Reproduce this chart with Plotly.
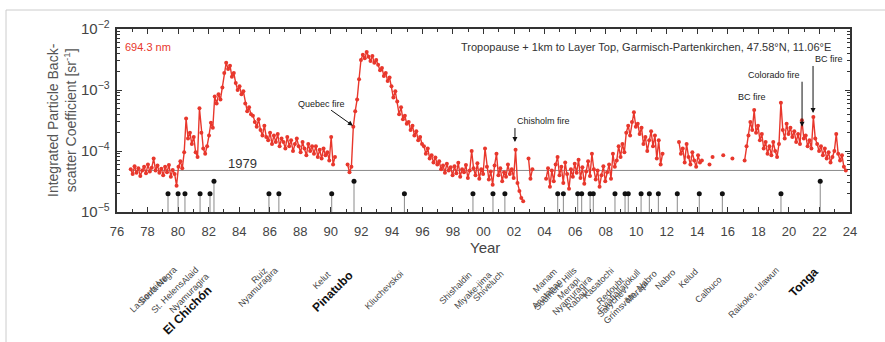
import math
import plotly.graph_objects as go

# ---------------- data ----------------
# Integrated particle backscatter coefficient, in units of 1e-5 sr^-1,
# read from the picture, sampled every SAMPLE_STEP years from each segment start.
SAMPLE_STEP = 0.125
UNIT = 1e-5

seg_a_start = 1976.9
seg_a = [5.0, 4.2, 5.6, 4.4, 5.2, 3.9, 4.8, 5.5,
         4.3, 6.0, 4.6, 5.3, 7.5, 4.8, 5.8, 4.4,
         5.1, 4.0, 5.5, 4.5, 5.9, 3.8, 4.9, 4.2,
         2.7, 5.5, 6.8, 5.2, 9.5, 34, 16, 20,
         13, 17, 9.5, 8.0, 50, 20, 11, 9.0,
         12, 18, 29, 24, 78, 60, 85, 70,
         110, 190, 280, 220, 250, 165, 190, 130,
         100, 115, 85, 95, 60, 45, 52, 40,
         38, 30, 25, 33, 22, 18, 26, 17,
         15, 20, 13, 18, 14, 19, 12, 16,
         14, 11, 17, 12, 15, 10, 13, 16,
         12, 9.5, 14, 11, 8.5, 13, 10, 12,
         9.0, 12, 8.0, 10.5, 7.5, 11, 8.5, 9.5,
         7.0, 17, 6.0, 8.0]

seg_b_start = 1991.1
seg_b = [6.0, 4.5, 5.5, 25, 45, 70, 150, 310,
         380, 330, 420, 350, 300, 360, 280, 310,
         260, 210, 230, 170, 190, 140, 160, 115,
         75, 95, 65, 40, 52, 33, 38, 28,
         30, 22, 26, 18, 21, 15, 17, 13,
         12, 9.0, 11, 7.5, 8.5, 6.5, 7.8, 6.0,
         6.8, 5.0, 5.8, 4.4, 6.2, 4.8, 5.4, 4.0,
         5.6, 4.3, 6.4, 3.8, 5.0, 4.5, 5.9, 3.6,
         4.8, 10, 5.2, 4.0, 6.3, 3.5, 5.0, 4.2,
         11, 5.5, 3.4, 4.6, 2.8, 5.8, 9.0, 4.0,
         5.2, 3.2, 4.5, 3.8, 6.0, 4.2, 5.0, 3.6,
         10.5, 3.0, 2.2, 1.7, 1.5]

seg_c_start = 2002.95
seg_c = [7.5, 3.5, 5.0]

seg_d_start = 2004.1
seg_d = [3.5, 5.2, 2.6, 4.8, 3.2, 6.0, 8.0, 4.0,
         5.5, 3.0, 6.5, 4.2, 2.4, 5.0, 3.8, 6.2,
         4.4, 7.2, 3.6, 5.4, 2.9, 4.6, 6.8, 3.9,
         9.0, 5.0, 3.4, 4.8, 2.6, 4.0, 5.6, 3.2,
         4.5, 6.0, 3.5, 9.0, 5.5, 7.0, 12, 8.0,
         13, 9.5, 20, 26, 18, 30, 43, 25,
         28, 19, 24, 13, 17, 10, 15, 21,
         12, 18, 7.5, 15, 6.0, 9.0]

seg_e_start = 2012.8
seg_e = [14, 9.0, 11, 6.5, 13, 8.0, 6.0, 9.5, 7.0, 5.5, 8.5, 6.5, 7.0]

sparse_years = [2014.8, 2015.0, 2015.7, 2016.3]
sparse_vals = [6.0, 8.0, 8.5, 7.5]

seg_g_start = 2017.1
seg_g = [7.0, 12, 18, 30, 22, 47, 20, 26,
         15, 19, 11, 14, 9.0, 12, 8.5, 14,
         10, 8.0, 13, 62, 22, 16, 28, 19,
         24, 17, 21, 14, 19, 13, 32, 16,
         18, 12, 15, 11, 36, 16, 13, 10,
         12, 8.5, 11, 7.5, 9.5, 6.5, 8.0, 10,
         19, 9.0, 7.0, 8.5, 5.5, 4.8]

reference_1979 = 4.8  # 1979 background level, units 1e-5 sr^-1

# volcanic eruptions (marker years), names, major flag
volcano_years = [1979.34, 1980.0, 1980.45, 1981.44, 1982.09, 1982.35,
                 1985.95, 1986.6, 1990.06, 1991.52, 1994.82,
                 1999.31, 2000.62, 2001.4,
                 2004.86, 2005.23, 2006.17, 2006.43, 2006.98, 2007.19,
                 2008.61, 2009.27, 2009.48, 2010.32, 2010.86, 2011.45,
                 2012.69, 2014.13, 2015.64, 2019.48, 2022.05]
volcano_names = ["La Soufrière", "Sierra Negra", "St. Helens", "Alaid", "Nyamuragira", "El Chichón",
                 "Ruiz", "Nyamuragira", "Kelut", "Pinatubo", "Kliuchevskoi",
                 "Shishaldin", "Miyake-jima", "Shiveluch",
                 "Manam", "Anatahan", "Soufrière Hills", "Merapi", "Rabaul", "Nyamuragira",
                 "Kasatochi", "Redoubt", "Sarychev", "Eyjafjallajökull", "Merapi", "Grímsvötn, Nabro",
                 "Nabro", "Kelud", "Calbuco", "Raikoke, Ulawun", "Tonga"]
volcano_major = [False, False, False, False, False, True,
                 False, False, False, True, False,
                 False, False, False,
                 False, False, False, False, False, False,
                 False, False, False, False, False, False,
                 False, False, False, False, True]

fire_names = ["Quebec fire", "Chisholm fire", "BC fire", "Colorado fire", "BC fire"]
fire_years = [1991.45, 2002.06, 2017.6, 2020.86, 2021.58]
fire_values = [2.6e-4, 1.4e-4, 4.7e-4, 2.5e-4, 4.2e-4]

x_tick_years = list(range(1976, 2025, 2))
x_tick_labels = [f"{y % 100:02d}" for y in x_tick_years]

# ---------------- build series ----------------
def segment(start, vals):
    xs = [start + i * SAMPLE_STEP for i in range(len(vals))]
    ys = [v * UNIT for v in vals]
    return xs, ys

xs, ys = [], []
for st, vals in [(seg_a_start, seg_a), (seg_b_start, seg_b), (seg_c_start, seg_c),
                 (seg_d_start, seg_d), (seg_e_start, seg_e)]:
    sx, sy = segment(st, vals)
    xs += sx + [None]
    ys += sy + [None]
for yr, v in zip(sparse_years, sparse_vals):
    xs += [yr, None]
    ys += [v * UNIT, None]
sx, sy = segment(seg_g_start, seg_g)
xs += sx
ys += sy

RED = "#e8372c"
FONT = "Liberation Sans, Arial, sans-serif"
MINOR_H = 2.0e-5
MAJOR_H = 3.2e-5

fig = go.Figure()

# 1979 reference line
fig.add_trace(go.Scatter(x=[1976.9, 2023.6], y=[reference_1979 * UNIT] * 2, mode="lines",
                         line=dict(color="#8a8a8a", width=1), hoverinfo="skip", showlegend=False))

# volcano stems
stem_x, stem_y = [], []
for yr, mj in zip(volcano_years, volcano_major):
    stem_x += [yr, yr, None]
    stem_y += [1e-5, MAJOR_H if mj else MINOR_H, None]
fig.add_trace(go.Scatter(x=stem_x, y=stem_y, mode="lines", line=dict(color="#8a8a8a", width=1),
                         hoverinfo="skip", showlegend=False))

# main data
fig.add_trace(go.Scatter(x=xs, y=ys, mode="lines+markers",
                         line=dict(color=RED, width=1.4),
                         marker=dict(color=RED, size=4),
                         showlegend=False))

# volcano dots
fig.add_trace(go.Scatter(x=volcano_years,
                         y=[MAJOR_H if mj else MINOR_H for mj in volcano_major],
                         mode="markers", marker=dict(color="#111", size=5),
                         showlegend=False))

W, H = 885, 342
L, R, T, B = 117, 35, 29, 130
pw, ph = W - L - R, H - T - B

def px_to_paper(px, py):
    return (px - L) / pw, (H - B - py) / ph

annotations = []
# texts inside plot
annotations.append(dict(x=1976.4, y=-2.295, xref="x", yref="y", text="694.3 nm", showarrow=False,
                        xanchor="left", yanchor="middle", font=dict(color=RED, size=11, family=FONT)))
annotations.append(dict(x=2022.9, y=-2.295, xref="x", yref="y",
                        text="Tropopause + 1km to Layer Top, Garmisch-Partenkirchen, 47.58°N, 11.06°E",
                        showarrow=False, xanchor="right", yanchor="middle",
                        font=dict(color="#333", size=11, family=FONT)))
annotations.append(dict(x=1984.25, y=-4.197, xref="x", yref="y", text="1979", showarrow=False,
                        xanchor="center", yanchor="middle", font=dict(color="#333", size=13, family=FONT)))

# fire annotations: arrow tail offsets (px) and text box anchoring at the tail
fire_arrow = [(-31, -22, "center", "middle"), (0, -14, "left", "bottom"), None,
              (0, -45, "right", "bottom"), (0, -47, "left", "bottom")]
for name, yr, v, arr in zip(fire_names, fire_years, fire_values, fire_arrow):
    if arr is None:
        annotations.append(dict(x=yr, y=math.log10(v), xref="x", yref="y", text=name, showarrow=False,
                                xanchor="center", yanchor="bottom", yshift=6,
                                font=dict(color="#222", size=9, family=FONT)))
    else:
        annotations.append(dict(x=yr, y=math.log10(v), xref="x", yref="y", text=name, showarrow=True,
                                ax=arr[0], ay=arr[1], xanchor=arr[2], yanchor=arr[3],
                                arrowhead=2, arrowsize=1, arrowwidth=1, arrowcolor="#111",
                                standoff=0, font=dict(color="#222", size=9, family=FONT)))

# axis titles
xp, yp = px_to_paper(485, 247)
annotations.append(dict(x=xp, y=yp, xref="paper", yref="paper", text="Year", showarrow=False,
                        xanchor="center", yanchor="middle", font=dict(color="#444", size=15, family=FONT)))
xp, yp = px_to_paper(62, 120)
annotations.append(dict(x=xp, y=yp, xref="paper", yref="paper", textangle=-90, showarrow=False,
                        xanchor="center", yanchor="middle",
                        text="Integrated Particle Back-<br>scatter Coefficient [sr<sup>-1</sup>]",
                        font=dict(color="#555", size=14, family=FONT)))

# volcano labels (rotated), stagger drops in pixels
label_drop = [8, 0, 14, 0, 6, 18,
              0, 0, 4, 4, 4,
              5, 5, 4,
              2, 12, 0, 10, 20, 8,
              0, 10, 20, 2, 14, 4,
              2, 2, 10, 0, 0]
for yr, name, mj, d in zip(volcano_years, volcano_names, volcano_major, label_drop):
    _, yp = px_to_paper(0, 262 + d)
    annotations.append(dict(x=yr + 0.25, y=yp, xref="x", yref="paper", text=(f"<b>{name}</b>" if mj else name),
                            textangle=-45, showarrow=False, xanchor="right", yanchor="top",
                            font=dict(color="#111" if mj else "#444", size=12 if mj else 9, family=FONT)))

# page border
x0, y0 = px_to_paper(6, 10)
x1, y1 = px_to_paper(885, 342)
shapes = [
    dict(type="line", xref="paper", yref="paper", x0=x0, y0=y0, x1=x1, y1=y0, line=dict(color="#cccccc", width=1)),
    dict(type="line", xref="paper", yref="paper", x0=x0, y0=y0, x1=x0, y1=y1, line=dict(color="#cccccc", width=1)),
]

fig.update_layout(
    width=W, height=H, margin=dict(l=L, r=R, t=T, b=B),
    paper_bgcolor="white", plot_bgcolor="white",
    font=dict(family=FONT),
    annotations=annotations, shapes=shapes,
    xaxis=dict(range=[1976, 2024], tickvals=x_tick_years, ticktext=x_tick_labels,
               ticks="inside", ticklen=5, tickcolor="#333", mirror="ticks", ticklabelstandoff=6,
               showline=True, linecolor="#333", linewidth=1.8, showgrid=False, zeroline=False,
               tickfont=dict(size=13, color="#444", family=FONT),
               minor=dict(tickvals=list(range(1977, 2024, 2)), ticks="inside", ticklen=3, tickcolor="#333")),
    yaxis=dict(type="log", range=[-5, -2], dtick=1, exponentformat="power",
               ticks="inside", ticklen=5, tickcolor="#333", mirror="ticks", ticklabelstandoff=3,
               showline=True, linecolor="#333", linewidth=1.8, showgrid=False, zeroline=False,
               tickfont=dict(size=12, color="#444", family=FONT),
               minor=dict(dtick="D1", ticks="inside", ticklen=3, tickcolor="#333", showgrid=False)),
)

fig.write_html("out.html")
